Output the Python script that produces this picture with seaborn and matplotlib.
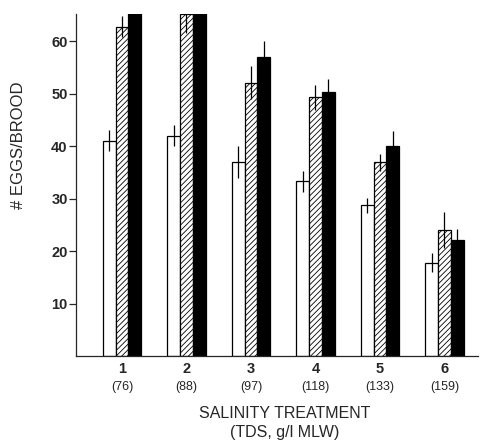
import matplotlib
matplotlib.use("Agg")
import matplotlib.pyplot as plt
import seaborn as sns
import numpy as np
import pandas as pd

treatments = ["1", "2", "3", "4", "5", "6"]
tds = ["(76)", "(88)", "(97)", "(118)", "(133)", "(159)"]
series = ["A", "B", "C"]
vals_a = [41, 42, 37, 33.3, 28.7, 17.8]
vals_b = [62.8, 65.2, 52.1, 49.3, 36.9, 24.0]
vals_c = [67, 67, 57.0, 50.3, 40.1, 22.2]
err_a = [2.0, 2.0, 3.0, 2.0, 1.4, 1.8]
err_b = [2.0, 3.6, 3.1, 2.4, 1.7, 3.5]
err_c = [0.0, 0.0, 3.1, 2.5, 2.7, 2.1]

sns.set_style("ticks")
plt.rcParams['font.family'] = ['Liberation Sans', 'DejaVu Sans']
plt.rcParams['hatch.linewidth'] = 0.6

df = pd.DataFrame({
    "treatment": treatments * 3,
    "series": [s for s in series for _ in treatments],
    "value": vals_a + vals_b + vals_c,
})

fig = plt.figure(figsize=(4.8, 4.41), dpi=100)
ax = fig.add_axes([76/480, 85/441, (478-76)/480, (356-14)/441])

sns.barplot(data=df, x="treatment", y="value", hue="series", order=treatments,
            hue_order=series, palette=["white", "white", "black"], width=0.6,
            edgecolor="black", linewidth=0.9, errorbar=None, legend=False, ax=ax,
            saturation=1)

# hatch middle series
n = len(treatments)
for i, p in enumerate(ax.patches[:3 * n]):
    if n <= i < 2 * n:
        p.set_hatch("//////")

x = np.arange(n)
for off, v, e in zip([-0.2, 0.0, 0.2], [vals_a, vals_b, vals_c], [err_a, err_b, err_c]):
    ax.errorbar(x + off, v, yerr=e, fmt="none", ecolor="black", elinewidth=0.9,
                capsize=0, clip_on=True)

ax.set_xlim(-0.713, 5.52)
ax.set_ylim(0, 65.2)
ax.set_yticks([10, 20, 30, 40, 50, 60])
ax.set_yticklabels(["10", "20", "30", "40", "50", "60"], fontsize=10.5, fontweight="bold")
ax.tick_params(axis="y", length=5, width=0.9, pad=1)
ax.set_xticks(x)
ax.set_xticklabels(treatments, fontsize=10.5, fontweight="bold")
ax.tick_params(axis="x", length=0, pad=4)
for i, t in enumerate(tds):
    ax.annotate(t, xy=(i, 0), xycoords=("data", "axes fraction"), xytext=(0, -22),
                textcoords="offset points", ha="center", va="center", fontsize=9)

for s in ["top", "right"]:
    ax.spines[s].set_visible(False)
for s in ["left", "bottom"]:
    ax.spines[s].set_linewidth(0.9)

ax.set_xlabel("")
ax.set_ylabel("# EGGS/BROOD", fontsize=12)
ax.yaxis.set_label_coords(-0.125, 0.617)

fig.text(285/480, 1 - 413/441, "SALINITY TREATMENT", ha="center", va="center", fontsize=11.5)
fig.text(285/480, 1 - 433/441, "(TDS, g/l MLW)", ha="center", va="center", fontsize=11.5)

fig.savefig("out.png", dpi=100)
